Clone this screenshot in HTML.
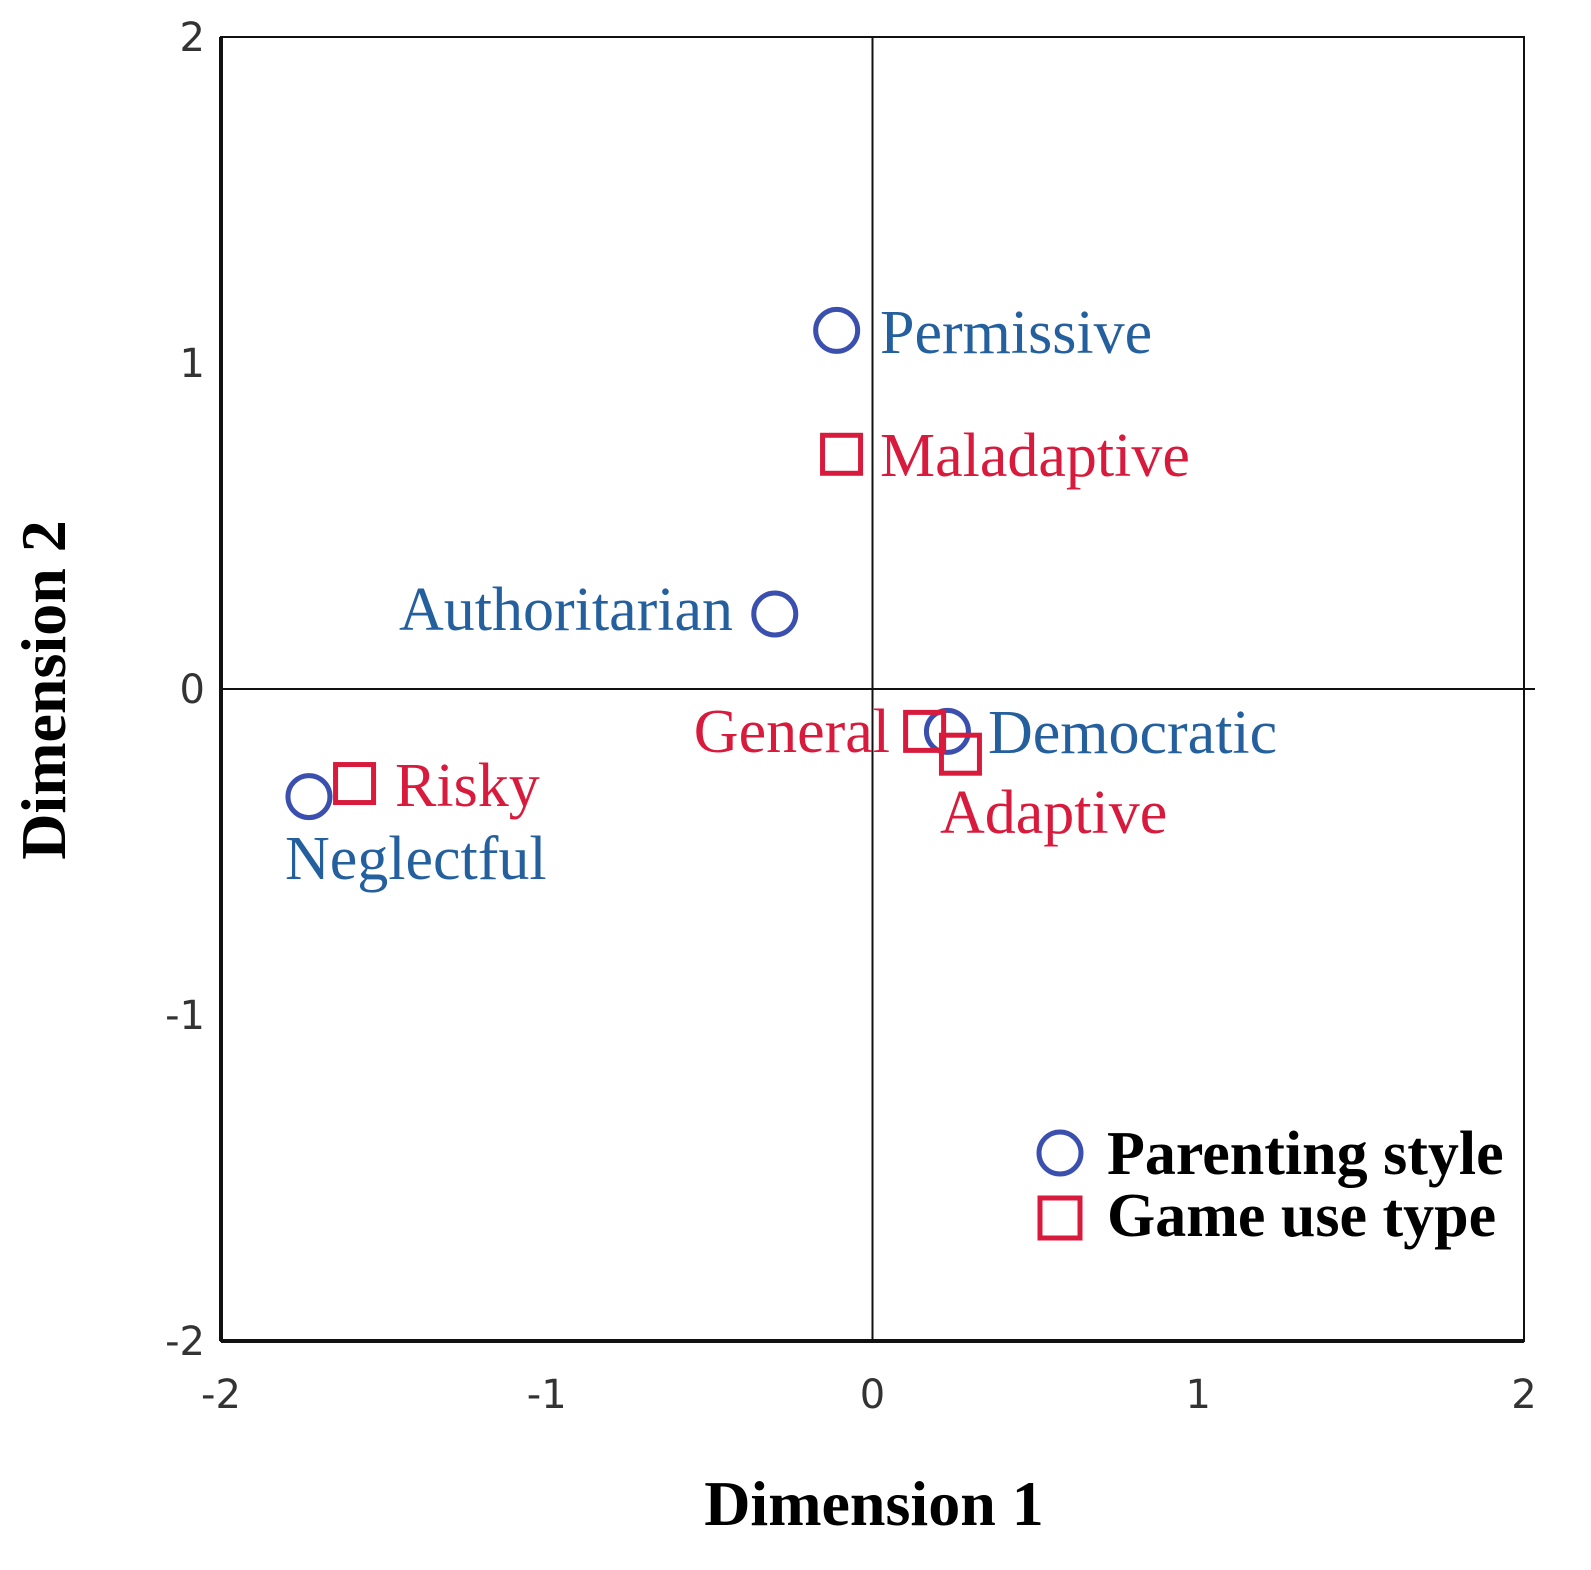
<!DOCTYPE html>
<html><head><meta charset="utf-8"><style>
html,body{margin:0;padding:0;background:#fff;}
svg{display:block;}
.tick{font-family:"DejaVu Sans","Liberation Sans",sans-serif;font-size:40px;fill:#333;}
.lbl{font-family:"Liberation Serif",serif;font-size:62px;}
.ttl{font-family:"Liberation Serif",serif;font-size:62px;font-weight:bold;fill:#000;}
</style></head><body>
<svg id="chart" width="1591" height="1570">
<g id="axes"></g><g id="marks"></g>
<text class="ttl" x="874" y="1525" text-anchor="middle" style="font-size:64px">Dimension 1</text>
<text class="ttl" transform="translate(65,690) rotate(-90)" text-anchor="middle" style="font-size:64px">Dimension 2</text>
<g>
<circle cx="1060" cy="1153" r="21" fill="none" stroke="#3b4fae" stroke-width="5"/>
<text class="ttl" x="1107" y="1174">Parenting style</text>
<rect x="1040" y="1198" width="40" height="40" fill="none" stroke="#d81a3c" stroke-width="5"/>
<text class="ttl" x="1107" y="1236">Game use type</text>
</g>
</svg>
<script>
const ticks=[-2,-1,0,1,2];
const names=["Permissive","Authoritarian","Democratic","Neglectful","Maladaptive","General","Adaptive","Risky"];
const kinds=["circle","circle","circle","circle","square","square","square","square"];
const xs=[-0.11,-0.30,0.23,-1.73,-0.095,0.16,0.27,-1.59];
const ys=[1.10,0.23,-0.13,-0.33,0.72,-0.13,-0.20,-0.29];
const lx=[880,733,988,285,880,890,940,395];
const ly=[353,630,753,879,476,752,833,806];
const anchors=["start","end","start","start","start","end","start","start"];

const X0=221,X1=1524,Y0=1341,Y1=37;
const sx=v=>X0+(v+2)/4*(X1-X0);
const sy=v=>Y0-(v+2)/4*(Y0-Y1);
const NS="http://www.w3.org/2000/svg";
function mk(t,a,p){const e=document.createElementNS(NS,t);for(const k in a)e.setAttribute(k,a[k]);p.appendChild(e);return e;}
const ax=document.getElementById('axes'),mg=document.getElementById('marks');
let e=mk('rect',{x:X0,y:Y1,width:X1-X0,height:Y0-Y1,fill:'none',stroke:'#111','stroke-width':2},ax);


e=mk('line',{x1:X0,y1:Y0,x2:X1,y2:Y0,stroke:'#111','stroke-width':4},ax);


e=mk('line',{x1:X0,y1:Y1,x2:X0,y2:Y0,stroke:'#111','stroke-width':4},ax);


e=mk('line',{x1:sx(0),y1:Y1,x2:sx(0),y2:Y0,stroke:'#111','stroke-width':2},ax);


e=mk('line',{x1:X0,y1:sy(0),x2:1535,y2:sy(0),stroke:'#111','stroke-width':2},ax);


ticks.forEach(t=>{
 let a=mk('text',{x:sx(t),y:1408,'text-anchor':'middle',class:'tick'},ax);a.textContent=t;
 
 
 let b=mk('text',{x:205,y:sy(t)+14,'text-anchor':'end',class:'tick'},ax);b.textContent=t;
 
 
});
names.forEach((n,i)=>{
 const cx=sx(xs[i]),cy=sy(ys[i]);
 const blue=kinds[i]==='circle';
 let m;
 if(blue)m=mk('circle',{cx:cx,cy:cy,r:21,fill:'none',stroke:'#3b4fae','stroke-width':5},mg);
 else m=mk('rect',{x:cx-19,y:cy-19,width:38,height:38,fill:'none',stroke:'#d81a3c','stroke-width':5},mg);
 
 
 let t=mk('text',{x:lx[i],y:ly[i],'text-anchor':anchors[i],class:'lbl',fill:blue?'#24609e':'#d81a3c'},mg);
 t.textContent=n;
 
 
});
</script>
</body></html>
